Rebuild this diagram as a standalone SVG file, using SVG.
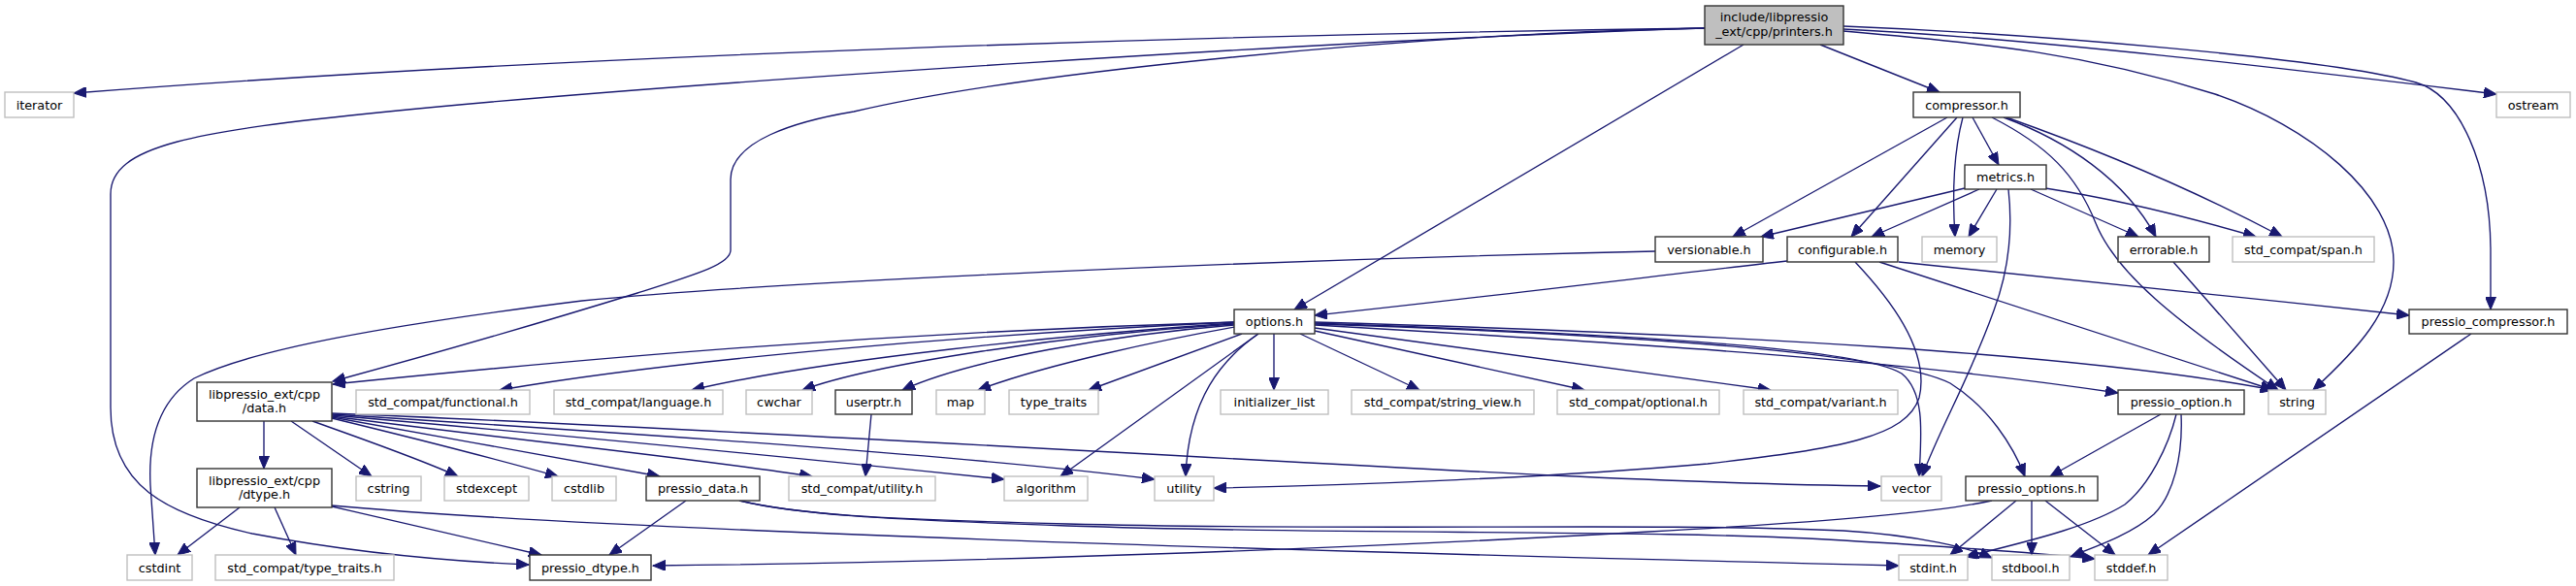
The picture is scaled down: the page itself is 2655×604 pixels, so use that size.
<svg xmlns="http://www.w3.org/2000/svg" width="2655" height="604" viewBox="0 0 2655 604">
<defs>
<style>
.n rect{stroke-width:1.4}
.doc rect{fill:#fff;stroke:#333}
.ext rect{fill:#fff;stroke:#bfbfbf}
.root rect{fill:#bfbfbf;stroke:#333}
text{font-family:"DejaVu Sans","Liberation Sans",sans-serif;font-size:12.8px;text-anchor:middle;fill:#000}
#edges path{fill:none;stroke:#191970;stroke-width:1.35;marker-end:url(#arr)}
</style>
<marker id="arr" markerUnits="userSpaceOnUse" markerWidth="14" markerHeight="11" refX="13" refY="5.5" orient="auto" viewBox="0 0 14 11">
<path d="M0,0 L13,5.5 L0,11 z" fill="#191970" stroke="#191970" stroke-width="1"/>
</marker>
</defs>
<rect width="2655" height="604" fill="#fff"/>
<g id="edges">
<path d="M1757,29 C1300,35 600,55 76,96"/>
<path d="M1757,29 C1400,40 700,85 400,115 C200,135 114,150 114,200 L114,420 C114,500 170,530 260,550 C350,567 450,578 545,582"/>
<path d="M1757,29 C1450,35 1050,75 880,115 C820,125 753,145 753,185 L753,258 C753,272 720,282 657,302 C560,332 420,372 343,393"/>
<path d="M1797,46 L1334,319"/>
<path d="M1876,46 L1999,95"/>
<path d="M1900,30 C2100,40 2350,70 2573,97"/>
<path d="M1900,27 C2100,35 2400,60 2490,85 C2535,98 2567,170 2567,260 L2567,319"/>
<path d="M1900,32 C2050,45 2150,55 2283,97 C2380,130 2467,200 2467,270 C2467,320 2430,360 2384,402"/>
<path d="M2007,121 L1786,244"/>
<path d="M2017,121 L1908,244"/>
<path d="M2023,121 C2014,155 2012,200 2015,244"/>
<path d="M2033,121 L2060,170"/>
<path d="M2053,121 C2110,150 2140,180 2160,230 C2180,280 2240,330 2348,402"/>
<path d="M2065,121 C2130,145 2190,185 2222,244"/>
<path d="M2068,121 C2150,150 2250,190 2352,244"/>
<path d="M2025,194 L1815,244"/>
<path d="M2040,195 L1929,244"/>
<path d="M2058,195 L2029,244"/>
<path d="M2070,195 C2075,240 2070,280 2055,320 C2030,390 2000,440 1981,491"/>
<path d="M2093,195 L2204,244"/>
<path d="M2108,194 C2180,205 2260,225 2325,244"/>
<path d="M1706,259 C1300,268 800,290 600,310 C400,335 260,360 200,390 C160,415 153,460 155,500 L160,572"/>
<path d="M1842,269 C1700,285 1500,310 1355,325"/>
<path d="M1912,270 C1945,305 1990,360 1978,410 C1965,450 1900,462 1760,478 C1600,492 1400,500 1251,503"/>
<path d="M1937,270 L2343,402"/>
<path d="M1957,270 C2100,285 2300,305 2483,325"/>
<path d="M2240,270 L2356,402"/>
<path d="M2547,344 L2214,572"/>
<path d="M1272,332 C900,343 600,370 343,396"/>
<path d="M1272,332 C1000,345 700,370 515,402"/>
<path d="M1272,333 C1100,345 850,370 713,402"/>
<path d="M1272,334 C1100,345 900,375 827,402"/>
<path d="M1272,335 C1150,345 1000,370 930,402"/>
<path d="M1273,337 C1200,350 1080,375 1008,402"/>
<path d="M1280,344 L1122,402"/>
<path d="M1297,344 L1093,491"/>
<path d="M1297,344 C1260,370 1225,410 1222,491"/>
<path d="M1313,344 L1313,402"/>
<path d="M1340,344 L1463,402"/>
<path d="M1355,341 L1633,402"/>
<path d="M1355,338 L1825,402"/>
<path d="M1355,335 C1700,355 1950,370 2183,405"/>
<path d="M1355,332 C1800,345 2150,365 2343,402"/>
<path d="M1355,333 C1700,345 1920,360 1960,385 C1985,405 1980,450 1978,491"/>
<path d="M1355,334 C1700,345 1950,365 2010,395 C2050,420 2075,460 2087,491"/>
<path d="M898,427 L892,491"/>
<path d="M272,434 L272,483"/>
<path d="M300,434 L383,491"/>
<path d="M322,434 C380,455 430,472 472,491"/>
<path d="M342,431 C420,450 500,470 575,491"/>
<path d="M342,430 C450,450 580,472 680,491"/>
<path d="M342,429 C500,450 700,470 837,491"/>
<path d="M342,428 C600,450 850,475 1035,494"/>
<path d="M342,427 C700,450 1000,470 1190,494"/>
<path d="M342,426 C700,440 1200,470 1600,490 C1750,497 1850,500 1938,501"/>
<path d="M247,523 L183,572"/>
<path d="M283,523 L305,572"/>
<path d="M342,522 C420,540 500,558 558,572"/>
<path d="M342,521 C600,545 1200,565 1957,583"/>
<path d="M707,516 L628,572"/>
<path d="M762,516 C820,530 900,535 1100,540 C1400,548 1700,538 1900,547 C1980,552 2030,565 2053,575"/>
<path d="M762,516 C820,530 900,535 1100,542 C1400,552 1700,545 1900,557 C2000,563 2100,570 2159,576"/>
<path d="M2053,516 C1990,530 1850,540 1700,548 C1400,565 1000,580 673,583"/>
<path d="M2078,516 L2010,572"/>
<path d="M2094,516 L2094,572"/>
<path d="M2108,516 L2180,572"/>
<path d="M2227,427 L2113,491"/>
<path d="M2243,427 C2235,460 2215,500 2190,520 C2150,545 2080,560 2026,574"/>
<path d="M2248,427 C2250,470 2240,510 2220,530 C2200,548 2170,560 2135,573"/>
</g>
<g id="n_root" class="n root"><rect x="1757" y="6" width="143" height="40"/><text x="1828.5" y="21.5">include/libpressio</text><text x="1828.5" y="36.5">_ext/cpp/printers.h</text></g>
<g id="n_iterator" class="n ext"><rect x="5" y="95" width="71" height="26"/><text x="40.5" y="112.5">iterator</text></g>
<g id="n_compressor" class="n doc"><rect x="1972" y="95" width="110" height="26"/><text x="2027" y="112.5">compressor.h</text></g>
<g id="n_ostream" class="n ext"><rect x="2573" y="95" width="76" height="26"/><text x="2611" y="112.5">ostream</text></g>
<g id="n_metrics" class="n doc"><rect x="2025" y="170" width="84" height="25"/><text x="2067" y="187">metrics.h</text></g>
<g id="n_versionable" class="n doc"><rect x="1706" y="244" width="111" height="26"/><text x="1761.5" y="261.5">versionable.h</text></g>
<g id="n_configurable" class="n doc"><rect x="1842" y="244" width="114" height="26"/><text x="1899" y="261.5">configurable.h</text></g>
<g id="n_memory" class="n ext"><rect x="1981" y="244" width="77" height="26"/><text x="2019.5" y="261.5">memory</text></g>
<g id="n_errorable" class="n doc"><rect x="2183" y="244" width="94" height="26"/><text x="2230" y="261.5">errorable.h</text></g>
<g id="n_span" class="n ext"><rect x="2301" y="244" width="146" height="26"/><text x="2374" y="261.5">std_compat/span.h</text></g>
<g id="n_options" class="n doc"><rect x="1272" y="319" width="83" height="25"/><text x="1313.5" y="336">options.h</text></g>
<g id="n_pcompressor" class="n doc"><rect x="2483" y="319" width="163" height="25"/><text x="2564.5" y="336">pressio_compressor.h</text></g>
<g id="n_data" class="n doc"><rect x="203" y="394" width="139" height="40"/><text x="272.5" y="410.5">libpressio_ext/cpp</text><text x="272.5" y="425">/data.h</text></g>
<g id="n_functional" class="n ext"><rect x="367" y="402" width="179" height="25"/><text x="456.5" y="419">std_compat/functional.h</text></g>
<g id="n_language" class="n ext"><rect x="571" y="402" width="174" height="25"/><text x="658" y="419">std_compat/language.h</text></g>
<g id="n_cwchar" class="n ext"><rect x="769" y="402" width="68" height="25"/><text x="803" y="419">cwchar</text></g>
<g id="n_userptr" class="n doc"><rect x="861" y="402" width="79" height="25"/><text x="900.5" y="419">userptr.h</text></g>
<g id="n_map" class="n ext"><rect x="965" y="402" width="50" height="25"/><text x="990" y="419">map</text></g>
<g id="n_type_traits" class="n ext"><rect x="1040" y="402" width="92" height="25"/><text x="1086" y="419">type_traits</text></g>
<g id="n_initializer_list" class="n ext"><rect x="1258" y="402" width="111" height="25"/><text x="1313.5" y="419">initializer_list</text></g>
<g id="n_string_view" class="n ext"><rect x="1393" y="402" width="188" height="25"/><text x="1487" y="419">std_compat/string_view.h</text></g>
<g id="n_optional" class="n ext"><rect x="1605" y="402" width="167" height="25"/><text x="1688.5" y="419">std_compat/optional.h</text></g>
<g id="n_variant" class="n ext"><rect x="1797" y="402" width="159" height="25"/><text x="1876.5" y="419">std_compat/variant.h</text></g>
<g id="n_poption" class="n doc"><rect x="2183" y="402" width="130" height="25"/><text x="2248" y="419">pressio_option.h</text></g>
<g id="n_string" class="n ext"><rect x="2338" y="402" width="59" height="25"/><text x="2367.5" y="419">string</text></g>
<g id="n_dtype" class="n doc"><rect x="203" y="483" width="139" height="40"/><text x="272.5" y="499.5">libpressio_ext/cpp</text><text x="272.5" y="514">/dtype.h</text></g>
<g id="n_cstring" class="n ext"><rect x="367" y="491" width="67" height="25"/><text x="400.5" y="508">cstring</text></g>
<g id="n_stdexcept" class="n ext"><rect x="458" y="491" width="87" height="25"/><text x="501.5" y="508">stdexcept</text></g>
<g id="n_cstdlib" class="n ext"><rect x="569" y="491" width="66" height="25"/><text x="602" y="508">cstdlib</text></g>
<g id="n_pdata" class="n doc"><rect x="666" y="491" width="117" height="25"/><text x="724.5" y="508">pressio_data.h</text></g>
<g id="n_utilityh" class="n ext"><rect x="813" y="491" width="151" height="25"/><text x="888.5" y="508">std_compat/utility.h</text></g>
<g id="n_algorithm" class="n ext"><rect x="1035" y="491" width="86" height="25"/><text x="1078" y="508">algorithm</text></g>
<g id="n_utility" class="n ext"><rect x="1190" y="491" width="61" height="25"/><text x="1220.5" y="508">utility</text></g>
<g id="n_vector" class="n ext"><rect x="1939" y="491" width="62" height="25"/><text x="1970" y="508">vector</text></g>
<g id="n_poptions" class="n doc"><rect x="2026" y="491" width="136" height="25"/><text x="2094" y="508">pressio_options.h</text></g>
<g id="n_cstdint" class="n ext"><rect x="131" y="572" width="67" height="26"/><text x="164.5" y="589.5">cstdint</text></g>
<g id="n_type_traits_h" class="n ext"><rect x="222" y="572" width="184" height="26"/><text x="314" y="589.5">std_compat/type_traits.h</text></g>
<g id="n_pdtype" class="n doc"><rect x="546" y="572" width="125" height="26"/><text x="608.5" y="589.5">pressio_dtype.h</text></g>
<g id="n_stdint" class="n ext"><rect x="1957" y="572" width="71" height="26"/><text x="1992.5" y="589.5">stdint.h</text></g>
<g id="n_stdbool" class="n ext"><rect x="2053" y="572" width="80" height="26"/><text x="2093" y="589.5">stdbool.h</text></g>
<g id="n_stddef" class="n ext"><rect x="2159" y="572" width="75" height="26"/><text x="2196.5" y="589.5">stddef.h</text></g>
</svg>
